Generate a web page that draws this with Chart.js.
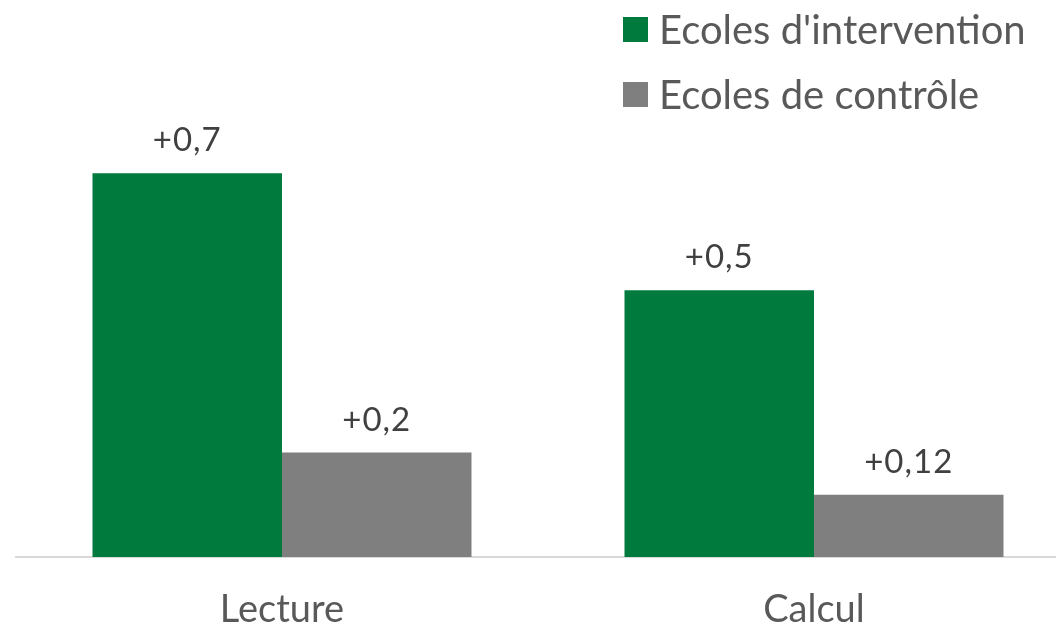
<!DOCTYPE html>
<html>
<head>
<meta charset="utf-8">
<script src="https://cdn.jsdelivr.net/npm/chart.js@4"></script>
<style>
  html, body { margin: 0; padding: 0; background: #fff; overflow: hidden; width: 1056px; height: 627px; }
  #wrap { position: relative; width: 1056px; height: 627px; overflow: hidden; }
  #chart { position: absolute; left: 0; top: 0; }
  #legend { position: absolute; left: 623px; top: 0; font-family: Lato, sans-serif; font-size: 40px; color: #595959; }
  .item { position: absolute; left: 0; white-space: nowrap; display: flex; align-items: center; height: 40px; }
  .box { width: 25px; height: 25px; margin-right: 11px; flex: none; }
</style>
</head>
<body>
<div id="wrap">
  <canvas id="chart" width="1080" height="663"></canvas>
  <div id="legend"></div>
</div>
<script>
const categories = ["Lecture", "Calcul"];
const seriesNames = ["Ecoles d'intervention", "Ecoles de contrôle"];
const interventionValues = [0.709, 0.493];
const controlValues = [0.193, 0.115];
const interventionLabels = ["+0,7", "+0,5"];
const controlLabels = ["+0,2", "+0,12"];

const green = "#007A3D";
const grey = "#7F7F7F";

const valueLabels = {
    id: "valueLabels",
    afterDatasetsDraw(chart) {
        const ctx = chart.ctx;
        ctx.save();
        ctx.font = "33px Lato";
        ctx.letterSpacing = "1px";
        ctx.fillStyle = "#404040";
        ctx.textAlign = "center";
        ctx.textBaseline = "alphabetic";
        chart.data.datasets.forEach((ds, i) => {
            chart.getDatasetMeta(i).data.forEach((bar, j) => {
                ctx.fillText(ds.valueText[j], bar.x, bar.y - 22);
            });
        });
        ctx.restore();
    }
};

const data = {
    labels: categories,
    datasets: [
        {
            label: seriesNames[0],
            data: interventionValues,
            valueText: interventionLabels,
            backgroundColor: green,
            borderWidth: 0,
        },
        {
            label: seriesNames[1],
            data: controlValues,
            valueText: controlLabels,
            backgroundColor: grey,
            borderWidth: 0,
        }
    ]
};

const config = {
    type: "bar",
    data,
    options: {
        responsive: false,
        animation: false,
        devicePixelRatio: 1,
        layout: {
            padding: { left: 16, right: 0, top: 124, bottom: 0 }
        },
        datasets: {
            bar: { barPercentage: 1, categoryPercentage: 0.7124 }
        },
        scales: {
            x: {
                grid: { display: false, drawTicks: false },
                border: { display: true, color: "#D9D9D9", width: 2 },
                ticks: {
                    color: "#595959",
                    font: { family: "Lato", size: 38, lineHeight: 1 },
                    padding: 34,
                }
            },
            y: {
                display: false,
                min: 0,
                max: 0.8,
            }
        },
        plugins: {
            legend: { display: false },
            tooltip: { enabled: false },
        }
    },
    plugins: [valueLabels]
};

const chart = new Chart(document.getElementById("chart"), config);

// legend built from the chart's datasets
const legendEl = document.getElementById("legend");
chart.data.datasets.forEach((ds, i) => {
    const item = document.createElement("div");
    item.className = "item";
    item.style.top = (9 + i * 65) + "px";
    const box = document.createElement("span");
    box.className = "box";
    box.style.background = ds.backgroundColor;
    const txt = document.createElement("span");
    txt.textContent = ds.label;
    item.appendChild(box);
    item.appendChild(txt);
    legendEl.appendChild(item);
});
</script>
</body>
</html>
